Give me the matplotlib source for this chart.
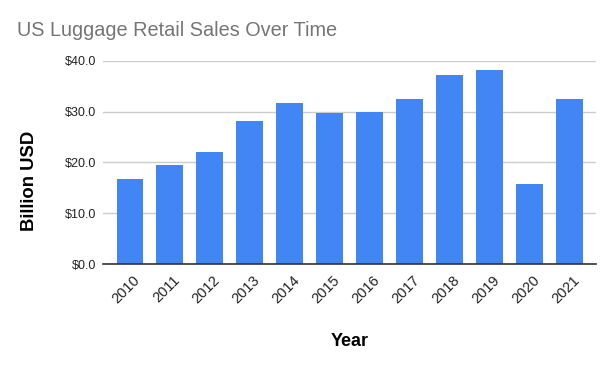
import matplotlib
matplotlib.use('Agg')
import matplotlib.pyplot as plt
import matplotlib.transforms as mtransforms

plt.rcParams['font.family'] = ['Liberation Sans', 'DejaVu Sans']

years = ['2010', '2011', '2012', '2013', '2014', '2015', '2016', '2017', '2018', '2019', '2020', '2021']
sales = [16.7, 19.5, 22.0, 28.2, 31.7, 29.8, 30.0, 32.4, 37.2, 38.2, 15.7, 32.4]
yticks = [0, 10, 20, 30, 40]
ytick_labels = ['$0.0', '$10.0', '$20.0', '$30.0', '$40.0']

fig = plt.figure(figsize=(6.14, 3.71), dpi=100)
ax = fig.add_axes([0.168, 0.288, 0.803, 0.548])

x = list(range(len(years)))
ax.bar(x, sales, width=0.67, color='#4285F4', zorder=3)

ax.set_xlim(-0.67, len(years) - 1 + 0.67)
ax.set_ylim(0, 40)
ax.set_yticks(yticks)
ax.set_yticklabels(ytick_labels, fontsize=9, color='#222222')
ax.set_xticks(x)
ax.set_xticklabels([])

# rotated year labels, anchored a little right of and below each bar centre
trans = mtransforms.blended_transform_factory(ax.transData, ax.transAxes)
offset = mtransforms.ScaledTranslation(8 / 100, -14 / 100, fig.dpi_scale_trans)
for xi, yr in zip(x, years):
    ax.text(xi, 0, yr, transform=trans + offset, fontsize=10.5, color='#222222',
            rotation=45, ha='right', va='center', rotation_mode='anchor')

ax.tick_params(axis='both', length=0)
ax.tick_params(axis='y', pad=5)
ax.grid(axis='y', color='#cccccc', linewidth=1, zorder=0)
for side in ['top', 'right', 'left']:
    ax.spines[side].set_visible(False)
ax.spines['bottom'].set_color('#333333')
ax.spines['bottom'].set_linewidth(1.2)
ax.spines['bottom'].set_zorder(4)

fig.text(17 / 614, 1 - 31 / 371, 'US Luggage Retail Sales Over Time', fontsize=14.3,
         color='#757575', ha='left', va='center')
fig.text(29 / 614, 1 - 181 / 371, 'Billion USD', fontsize=13.3, fontweight='bold',
         rotation=90, ha='center', va='center', color='#000000')
fig.text(350 / 614, 1 - 342 / 371, 'Year', fontsize=13, fontweight='bold',
         ha='center', va='center', color='#000000')

fig.savefig('out.png', dpi=100)
